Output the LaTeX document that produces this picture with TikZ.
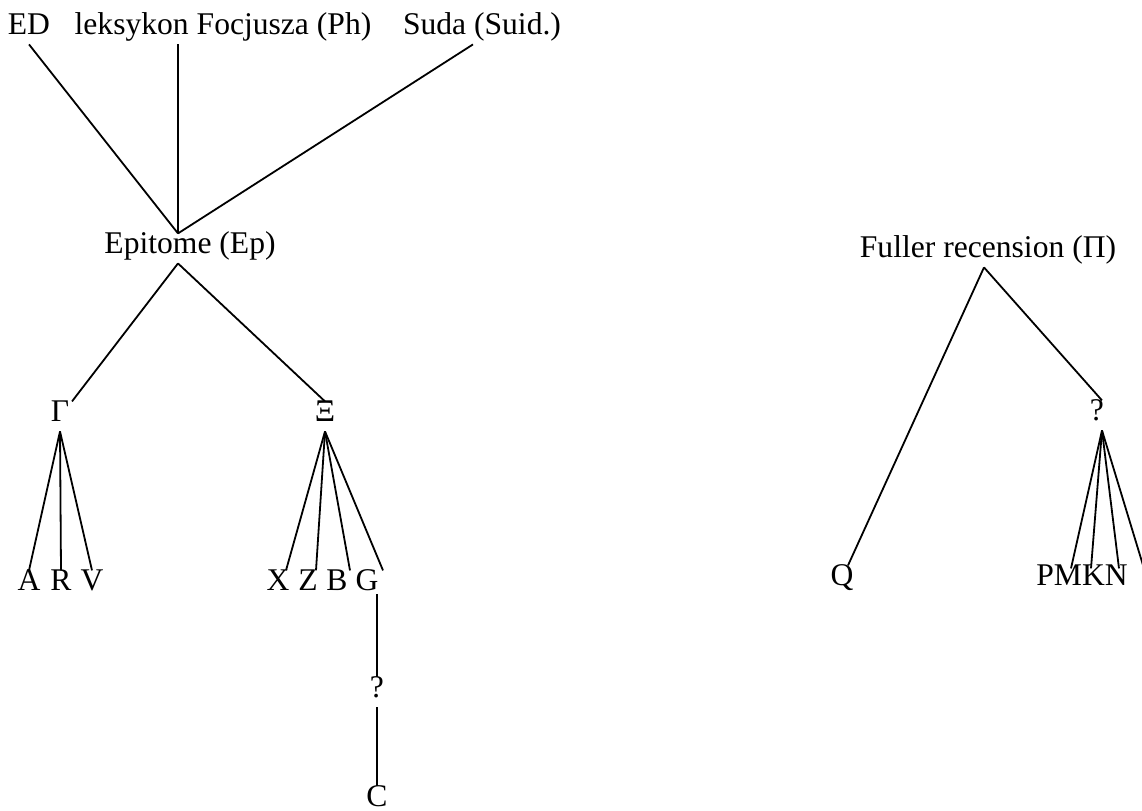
\documentclass[tikz,border=0pt]{standalone}
\usepackage{fontspec}
\setmainfont{Liberation Serif}
\usepackage{tikz}

\begin{document}
\begin{tikzpicture}[x=0.5pt, y=-0.5pt, line width=0.9pt, lbl/.style = {anchor=base, inner xsep=0pt, inner ysep=3pt, outer sep=0pt, text height=0.68em, text depth=0.22em, font=\fontsize{15.8}{18}\selectfont}]
  \useasboundingbox (0,0) rectangle (1142,810);
  % sources
  \node[lbl] (ed) at (29,34) {ED};
  \node[lbl] (lek) at (223,34) {leksykon Focjusza (Ph)};
  \node[lbl] (suda) at (482,34) {Suda (Suid.)};
  \node[lbl] (ep) at (190,253) {Epitome (Ep)};
  % epitome branch
  \node[lbl] (gam) at (60,421) {Γ};
  \node[lbl] (xi) at (325,421) {Ξ};
  \node[lbl] (a) at (29,590) {A};
  \node[lbl] (r) at (61,590) {R};
  \node[lbl] (v) at (92,590) {V};
  \node[lbl] (x) at (278,590) {X};
  \node[lbl] (z) at (308,590) {Z};
  \node[lbl] (b) at (337,590) {B};
  \node[lbl] (g) at (367,590) {G};
  \node[lbl] (gq) at (377,697) {?};
  \node[lbl] (c) at (377,806) {C};
  % fuller recension
  \node[lbl] (full) at (988,257) {Fuller recension (Π)};
  \node[lbl] (q) at (842,585) {Q};
  \node[lbl] (pq) at (1097,420) {?};
  \node[lbl] (pmkn) at (1082,585) {PMKN};
  \draw (ed.south) -- ([xshift=-6pt]ep.north);
  \draw ([xshift=-22.5pt]lek.south) -- ([xshift=-6pt]ep.north);
  \draw ([xshift=-4.5pt]suda.south) -- ([xshift=-6pt]ep.north);
  \draw ([xshift=-6pt]ep.south) -- ([xshift=6pt]gam.north);
  \draw ([xshift=-6pt]ep.south) -- (xi.north);
  \draw (gam.south) -- (a.north);
  \draw (gam.south) -- (r.north);
  \draw (gam.south) -- (v.north);
  \draw (xi.south) -- ([xshift=4pt]x.north);
  \draw (xi.south) -- ([xshift=4pt]z.north);
  \draw (xi.south) -- ([xshift=6.5pt]b.north);
  \draw (xi.south) -- ([xshift=8pt]g.north);
  \draw ([shift={(5pt,-2pt)}]g.base) -- (gq.north);
  \draw (gq.south) -- (c.north);
  \draw ([xshift=-2pt]full.south) -- ([xshift=3pt]q.north);
  \draw ([xshift=-2pt]full.south) -- ([xshift=2.5pt]pq.north);
  \draw ([xshift=2.5pt]pq.south) -- ([shift={(-5.5pt,-1.5pt)}]pmkn.north);
  \draw ([xshift=2.5pt]pq.south) -- ([shift={(4.5pt,-1.5pt)}]pmkn.north);
  \draw ([xshift=2.5pt]pq.south) -- ([shift={(18.5pt,-1.5pt)}]pmkn.north);
  \draw ([xshift=2.5pt]pq.south) -- ([shift={(31pt,-1.5pt)}]pmkn.north);
\end{tikzpicture}
\end{document}
